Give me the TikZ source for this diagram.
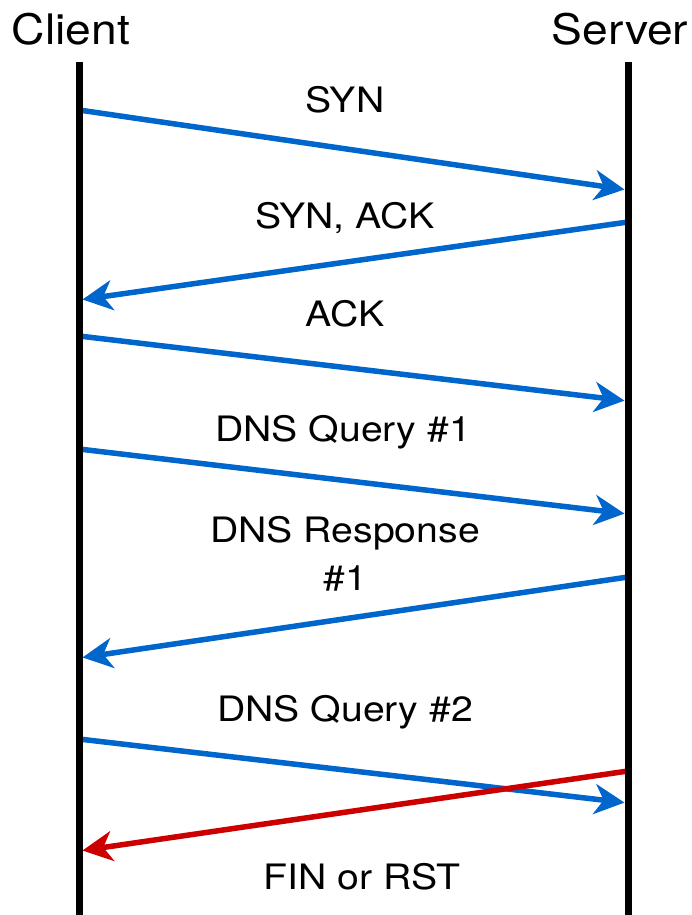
\documentclass[tikz,border=0pt]{standalone}
\usepackage{fontspec}
\setmainfont{TeX Gyre Heros}
\usetikzlibrary{arrows.meta}
\definecolor{msgblue}{HTML}{0066CC}
\definecolor{msgred}{HTML}{CC0000}
\tikzset{
  lifeline/.style={line width=7pt, black},
  party/.style={font=\fontsize{42}{48}\selectfont, anchor=base, inner sep=0pt, xscale=1.1},
  msglabel/.style={font=\fontsize{35}{42}\selectfont, anchor=base, inner sep=0pt, xscale=1.12},
  msg/.style={line width=5.5pt, msgblue, shorten >=3.5pt,
    -{Stealth[length=30pt, width=30pt, inset=9pt]}},
  reply/.style={msg, msgred},
}
\begin{document}
\begin{tikzpicture}[x=1pt, y=-1pt]
  \useasboundingbox (0,0) rectangle (692,915);

  % participants
  \node[party] (client) at (71,45) {Client};
  \node[party] (server) at (620,45) {Server};

  % lifeline end points
  \coordinate (ctop) at (79,62);  \coordinate (cbot) at (79,915);
  \coordinate (stop) at (628,62); \coordinate (sbot) at (628,915);

  % message end points on the lifelines
  \coordinate (c1) at (79,110);  \coordinate (s1) at (628,190);
  \coordinate (s2) at (628,222); \coordinate (c2) at (79,300);
  \coordinate (c3) at (79,336);  \coordinate (s3) at (628,401);
  \coordinate (c4) at (79,449);  \coordinate (s4) at (628,514);
  \coordinate (s5) at (628,577); \coordinate (c5) at (79,658);
  \coordinate (c6) at (79,739);  \coordinate (s6) at (628,803);
  \coordinate (s7) at (628,771); \coordinate (c7) at (79,851);

  % messages
  \draw[msg] (c1) -- (s1);
  \draw[msg] (s2) -- (c2);
  \draw[msg] (c3) -- (s3);
  \draw[msg] (c4) -- (s4);
  \draw[msg] (s5) -- (c5);
  \draw[msg] (c6) -- (s6);
  \draw[reply] (s7) -- (c7);

  % lifelines
  \draw[lifeline] (ctop) -- (cbot);
  \draw[lifeline] (stop) -- (sbot);

  % message labels
  \node[msglabel] (l1) at (345,113) {SYN};
  \node[msglabel] (l2) at (345,228) {SYN, ACK};
  \node[msglabel] (l3) at (345,326) {ACK};
  \node[msglabel] (l4) at (343,441) {DNS Query \#1};
  \node[msglabel] (l5a) at (345,542) {DNS Response};
  \node[msglabel] (l5b) at (345,590) {\#1};
  \node[msglabel] (l6) at (345,721) {DNS Query \#2};
  \node[msglabel] (l7) at (362,889) {FIN or RST};
\end{tikzpicture}
\end{document}
